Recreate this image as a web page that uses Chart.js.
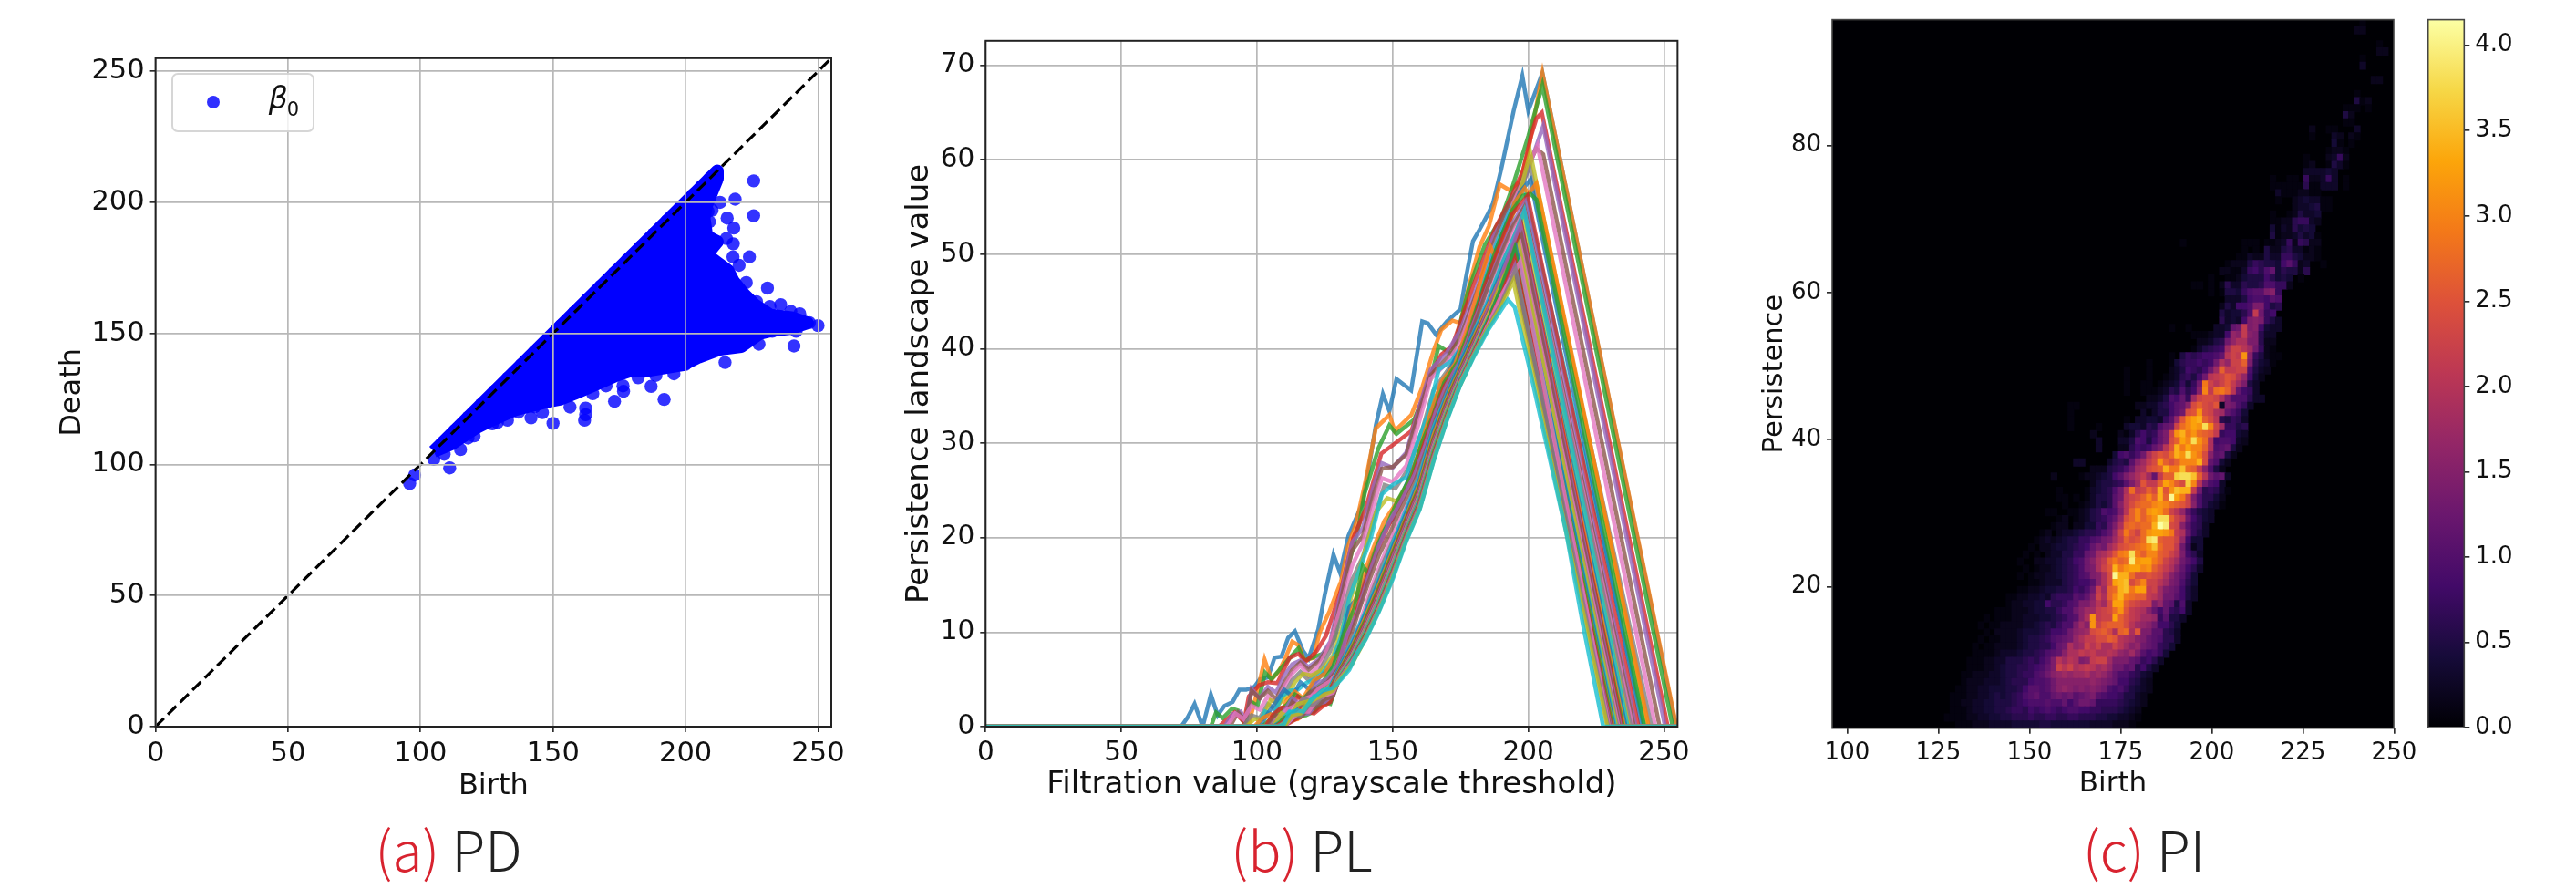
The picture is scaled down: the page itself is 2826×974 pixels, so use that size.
<!DOCTYPE html>
<html><head><meta charset="utf-8">
<script src="https://cdn.jsdelivr.net/npm/chart.js@4"></script>
<style>
html,body{margin:0;padding:0;background:#fff;width:2826px;height:974px;overflow:hidden}
canvas{position:absolute;top:0;filter:blur(.5px)}
.cap{position:absolute;top:892px;font-family:"Noto Sans CJK SC","Lato",sans-serif;font-weight:300;font-size:60px;line-height:76px;color:#222;white-space:nowrap;transform:translateX(-50%)}
.cap span{color:#d8232f}
#lg{position:absolute;left:187.7px;top:80.3px;width:153px;height:61px;border:2px solid rgba(204,204,204,.8);border-radius:7px;background:rgba(255,255,255,.8);font-family:"DejaVu Sans";font-size:33px;color:#111;z-index:3;filter:blur(.4px)}
#lg b{position:absolute;left:37.6px;top:23px;width:14px;height:14px;border-radius:50%;background:rgb(48,48,255)}
#lg i{position:absolute;left:105px;top:6px}
#lg sub{position:absolute;left:125px;top:25px;font-size:21px;line-height:26px}
</style></head><body>
<canvas id="pd" width="960" height="974" style="left:0"></canvas>
<canvas id="pl" width="900" height="974" style="left:960px"></canvas>
<canvas id="pi" width="780" height="974" style="left:1880px"></canvas>
<canvas id="cb" width="186" height="974" style="left:2640px"></canvas>
<div id="lg"><b></b><i>β</i><sub>0</sub></div>
<div class="cap" style="left:492px"><span>(a)</span> PD</div>
<div class="cap" style="left:1428px"><span>(b)</span> PL</div>
<div class="cap" style="left:2352px"><span>(c)</span> PI</div>
<script>
/* ---------- panel (a): persistence diagram ---------- */
const pdTicks=[0,50,100,150,200,250];
const diagonalEnds=[0,255];
const denseBirth=[105,212,212,210,208,207,208,212,208,212,216,218,222,226,232,240,246,240,232,228,221,213,205,199,187,180,174,165,158,153,148,136,127,121,112,105];
const denseDeath=[105,212,209,204,199,194,187,185,180,177,174,170,165,161,157,156,154,152,151,150,145,144,141,138,136,136,134,130,127,125,124,121,117,114,108,105];
const birthValues=[225.7,218.7,225.7,215.7,218.2,218,217.9,224.1,220.2,222.9,230.9,226.8,231.8,235.9,239.7,243.1,246.7,250,241.7,232.7,240.9,227.7,214.9,199.8,195.6,188.8,182.1,187,191.9,176.4,176.6,173.2,162.3,162.3,161.9,156.4,150,141.7,146,132.8,127.1,120.2,117.9,115.1,111,108.9,105,97.8,95.9,208.5,209,209.6,215.4,213,211.3,209,206,203,198,193,188,183,178,173,168,163,158,153,148,143,138,133,128,123,118,113,108,204,210,222,229,235,238,205,209,217,222,170,165,137,143,129,124];
const deathValues=[208.2,201.2,194.9,194,190.2,184.2,179.2,179.2,176,169.4,167.3,162.1,160.3,161,158.4,157.5,154.1,153,150.8,150.8,145.2,145.9,138.9,138.1,134.6,134,133.1,129.8,124.8,130,127.9,124.1,121.5,119,116.9,121.9,115.7,117.8,119.8,116.9,115.5,110.9,110.1,105.7,98.7,103.9,102,96,92.7,196.6,192.6,186.2,186.2,200,210,209,206,203,198,193,188,183,178,173,168,163,158,153,148,143,138,133,128,123,118,113,108,200,197,160,155,153,156,142,143,146,147,130,127,120,122,116,116];

/* ---------- panel (b): persistence landscape layers, flat x,y knots ---------- */
const plXTicks=[0,50,100,150,200,250];
const plYTicks=[0,10,20,30,40,50,60,70];
const layer01=[0,0,72,0,74.5,1,77,2.4,80,0,83,3.4,85.5,1.2,88,2.2,91,2.6,93.5,3.9,96,3.9,99,4.2,101,5,104,5.2,106.5,7.3,109,7.4,111.5,9.4,114,10.1,117,8,119,7.2,122.6,10.3,125,14,128.2,18.2,130.6,16.3,133.7,20.2,138.7,23.5,141,27,143.8,31.9,146.4,35.2,148.8,33.4,151.4,36.8,156.8,35.6,160.9,42.9,163,42.7,166,41.5,170,42.9,175,44.2,177,47.5,179.6,51.4,182,52.6,185,54.2,187,55.4,190,59,194.6,65.2,197.8,68.9,200,65.2,205.2,69.2,254.4,0,255,0];
const layer02=[0,0,96,0,97,.3,100.2,3.8,102.8,7.1,105.3,5,108,5.8,110.5,7.3,113,9,115.3,8.6,117.5,7,120.9,7.3,123,9.9,126.7,12.2,131,15.4,133.5,19,136.7,21.7,140,26,143.8,31.6,148.8,33,150.8,31.3,156.9,33,161,36,165,39.7,167.9,42,172,43,175,42.7,178,46.5,182,50.8,185.5,53,189.5,57.4,193,56.8,197,57.7,200,61,205.2,69.2,254.6,0,255,0];
const layer03=[0,0,83,0,84.9,1.5,87.4,.9,90.8,1.9,93,1.7,95.2,.4,97.4,2.7,100.2,2.2,103,5.7,105.3,5,109.7,6.5,115.3,8.3,117.5,7,124.2,7.7,128.7,9.3,133,16.4,137.6,21.3,139.7,24.7,144.8,29.5,148.8,31.9,151.4,31,157.9,32.5,163.9,36.7,167,40.3,172,39.4,178,46.3,184,51,190,53.8,194,57,200,62.5,205.2,67.9,253.2,0,255,0];
const layer04=[0,0,86,0,91.8,1.5,95.2,.5,97,3.2,100.8,4.4,104,4.7,107.5,4.6,112,7.3,115.3,7.7,118,6.9,122,8,125.4,9.6,131,14.5,135.5,20,140,23,145.8,28.9,150,29.8,156.9,31.3,163.9,37.3,168,39.4,172,40.3,180,46.9,188,52.9,193,55.6,198,58.8,201,62.5,203,64.4,205,65,251.4,0,255,0];
const layer05=[0,0,88,0,91,1.3,94,1.6,96,.5,98,4,101,3,104,4.2,107,3.6,110,5.4,113,6.6,116,7,119,6.3,123,7.2,127,9,131,14.2,135,19.5,139,21,143,25.5,146,27.9,150,27.4,155,29,160,34,164,37.8,170,39.6,175,42,181,46.5,187,51.8,192,54.3,196,56,200,59,203,61.5,205.5,63.6,250.4,0,255,0];
const layer06=[0,0,90,0,93,1.5,96,.6,98,3.8,101,3,104,3.8,107,2.9,110,4.6,113,6,116,6.8,119,6,123,7,127,8.6,131,13.5,135,18.6,139,20.2,143,24.6,146,27.3,150,27.5,155,28.8,160,33.5,164,37.2,170,39,175,41.2,181,46,187,51,192,54.8,197,57.3,200,59.5,203,61.2,205.5,60.6,248.4,0,255,0];
const layer07=[0,0,89,0,92,1.4,95,.8,98,2.2,101,1.8,104,3.2,107,2.4,110,4.2,113,5.6,116,6.5,119,5.4,123,6.5,127,8.8,131,12.8,135,17,139,19.4,143,23.5,146,26.3,150,25.9,155,27.6,160,32.5,164,36.8,170,38.5,175,40.6,181,45.6,187,50.4,192,53.8,197,57,201,60,203.4,61.5,246.8,0,255,0];
const layer08=[0,0,95,0,98,1.2,101,.9,104,2.4,107,1.8,110,3.4,113,4.9,116,5.8,119,4.9,123,5.9,127,8,131,11.5,135,15.5,139,18,143,22,147,25.6,151,25.2,156,27.4,161,31.5,165,35.6,170,37.6,176,40.4,182,45.2,188,50,193,53.4,197,56.5,200.5,59.5,245.4,0,255,0];
const layer09=[0,0,96,0,99,.8,102,.8,105,2.8,108,2.4,111,3.2,114,4.7,117,5.6,120,5.4,124,6,128,7.5,132,11,136,15,140,18.8,144,22.8,148,24.2,152,23.8,157,26.6,162,31,166,35,171,37,176,40,182,44.6,188,49.5,193,53,197,56.6,200.7,60.8,243.8,0,255,0];
const layer10=[0,0,100,0,103,1.6,106,1.2,109,3.2,112,3.8,115,3.9,118,4.6,121,5,124,5.6,128,7.2,131,9.5,134,13.6,138,16.8,142,20,146,24.6,150,25.6,155,26.4,159,30,163,33,167,37.8,172,38.8,177,41,183,46.5,188,51,193,54.5,198.5,57,242.6,0,255,0];
const layer11=[0,0,101,0,104,1.4,107,2.6,110,3.9,113,3.2,116,4.7,119,4,123,5.2,127,6.2,131,8.8,134,12.6,138,14,142,17.6,146,20.5,150,22,155,25.6,159,28.4,163,31.8,167,35.6,172,38.3,177,41.2,183,45.8,188,50.4,193,54,197,56.6,200.8,57.9,241.8,0,255,0];
const layer12=[0,0,99,0,102,.9,105,1.3,108,1,111,2.8,114,3.7,117,3,121,4.9,125,5.6,128,7.2,131,8,135,12.4,139,15.8,143,19,147,21.8,151,23.5,156,25.8,160,29.4,164,33.2,168,36.5,173,38.4,178,42.5,184,49,186,50.8,188,49.6,192,52.8,195,55.5,198.7,57,200,56.4,203,57.5,244.4,0,255,0];
const layer13=[0,0,102,0,105,.8,108,1.7,111,2.3,114,3.4,117,2.9,120,3.8,124,4.6,128,6.3,132,9.8,136,12.6,139,17,141,16.2,144,18.9,148,21.4,152,24,157,26.6,161,30.2,165,33,169,36.4,174,38.6,179,42.5,184,47,189,51.2,194,54.6,198,56.2,200.8,56.4,203,55.8,242.8,0,255,0];
const layer14=[0,0,103,0,106,1.3,109,2,112,2,115,3.2,118,2.4,121,3.6,125,4.4,129,6,132,8.5,136,11.5,140,15.4,144,18.4,148,21,152,23.2,157,26,161,29.4,165,32.8,169,36,174,38.2,179,42,184,46.6,189,50.6,194,54.2,199.7,56.2,240.6,0,255,0];
const layer15=[0,0,104,0,107,.7,110,1.6,113,3,116,2.3,119,3.1,122,4.6,126,5,130,6.6,133,9.6,137,12,141,15.8,145,19.2,149,21.8,153,23.8,158,26.6,162,29.8,166,33.4,170,36.2,175,38.8,180,42.8,185,46.6,190,50.4,194,53.2,198.9,55.5,239.6,0,255,0];
const layer16=[0,0,104,0,107,1.2,110,.9,113,2.6,116,1.9,119,3.5,122,4,126,4.7,130,6.1,133,8,137,11.8,141,15.2,145,18.2,149,20.5,153,23,158,25.8,162,29,166,32.6,170,35.6,175,38.4,180,42.4,185,46.4,190,50,194,52.8,198.5,55,239,0,255,0];
const layer17=[0,0,105,0,108,1,111,1.8,114,2.2,117,2.9,120,3.2,123,4.1,127,4.8,131,6.2,134,8.2,138,11,142,14.6,146,17.6,150,20.2,154,22.6,159,25.6,163,28.6,167,32.4,171,35.2,176,37.8,181,42,186,46,191,49.8,195,52.6,198.5,54.6,238.4,0,255,0];
const layer18=[0,0,105,0,108,.8,111,1.2,114,1.8,117,3,120,2.7,123,3.6,127,4.4,131,5.7,134,7.6,138,10.4,142,14,146,17,150,19.6,154,22,159,25,163,28.2,167,31.8,171,34.6,176,37.4,181,41.6,186,45.6,191,49.4,195,52,198.5,54.5,237.8,0,255,0];
const layer19=[0,0,106,0,109,1.4,112,1,115,2.4,118,2.6,121,2.9,124,3.6,128,4.6,132,6,135,8.4,139,10.6,143,14,147,17,151,19.6,155,22,160,25.2,164,28.2,168,31.6,172,34.4,177,37.4,182,41.4,187,45.4,191,48.8,195,51.6,198,53.8,237,0,255,0];
const layer20=[0,0,106,0,109,.6,112,1.6,115,1.3,118,2.1,121,3.2,124,3.2,127,4.3,130,6,135,9,140,12.2,145,15.6,150,19.4,155,23,160,26.6,165,31.6,170,35.2,175,38.6,180,41.8,185,45,190,48.8,195,52,198.5,54.6,236.6,0,255,0];
const layer21=[0,0,106,0,109,.5,112,1.2,115,1.8,118,2,121,2.6,124,3.4,127,4.1,130,5.9,135,8.7,140,11.9,145,15.4,150,19,155,22.6,160,26.2,165,31.2,170,35,175,38.4,180,41.6,185,44.6,190,48,197.5,53,235.9,0,255,0];
const layer22=[0,0,107,0,110,.8,113,.9,116,1.9,119,1.7,122,2.9,125,3.4,127,4,130,5.7,135,8.4,140,11.6,145,15,150,18.6,155,22.2,160,25.8,165,30.8,170,34.7,175,38,180,41.2,185,44.4,190,47.6,197.5,52.6,235.3,0,255,0];
const layer23=[0,0,107,0,110,.9,113,1.3,116,1.4,119,2.4,122,2.4,125,3,127,3.9,130,5.6,135,8.2,140,11.3,145,14.7,150,18.3,155,22,160,25.5,165,30.4,170,34.4,175,37.8,180,41,185,44,190,47.2,197,52.2,234.9,0,255,0];
const layer24=[0,0,107,0,110,.6,113,1,116,1.8,119,1.6,122,2.6,125,3.1,127,3.9,130,5.5,135,8,140,11,145,14.4,150,18,155,21.8,160,25.2,165,30.2,170,34.2,175,37.6,180,40.8,185,44,190,47.4,197.5,53,234.5,0,255,0];
const layer25=[0,0,107,0,110,.4,113,1.2,116,1.2,119,2,122,2.2,125,3,127,3.6,130,5.4,135,7.8,140,10.8,145,14.1,150,17.8,155,21.5,160,25,165,30,170,34,175,37.5,180,40.6,185,44,190,47.6,197,53.2,234,0,255,0];
const layer26=[0,0,108,0,111,.8,114,1,117,1.5,120,2.2,123,2.4,126,3,130,5.3,135,7.7,140,10.6,145,13.9,150,17.5,155,21.2,160,24.8,165,29.8,170,33.8,175,37.3,180,40.4,185,43.6,190,46.8,197.5,51.9,233.6,0,255,0];
const layer27=[0,0,108,0,111,.6,114,.8,117,1.8,120,1.9,123,2.7,126,2.8,130,5.2,135,7.5,140,10.4,145,13.7,150,17.3,155,21,160,24.6,165,29.6,170,33.6,175,37.1,180,40.2,185,43.4,190,46.4,197,51,233.2,0,255,0];
const layer28=[0,0,108,0,111,.7,114,1.2,117,1.4,120,1.8,123,2.3,126,3,130,5.2,135,7.4,140,10.3,145,13.5,150,17.1,155,20.9,160,24.4,165,29.4,170,33.5,175,37,180,40.1,185,43.2,190,46,197,50,232.8,0,255,0];
const layer29=[0,0,108,0,111,.5,114,.9,117,1.3,120,2,123,2.2,126,2.6,130,5.1,135,7.3,140,10.1,145,13.3,150,16.9,155,20.7,160,24.2,165,29.2,170,33.4,175,36.9,180,40,185,43.3,190,47,196.5,51,232.4,0,255,0];
const layer30=[0,0,109,0,112,.8,115,1,118,1.6,121,1.8,124,2.6,127,2.8,130,5.1,135,7.2,140,10,145,13.2,150,16.8,155,20.6,160,24.1,165,29.1,170,33.2,175,36.8,180,39.9,185,43,190,45.8,196,49.6,232,0,255,0];
const layer31=[0,0,109,0,112,.6,115,.9,118,1.8,121,1.6,124,2.4,127,2.6,130,5,135,7.1,140,9.9,145,13,150,16.6,155,20.5,160,24,165,29,170,33.1,175,36.7,180,39.8,185,42.9,190,46.4,195.5,50.6,231.6,0,255,0];
const layer32=[0,0,109,0,112,.7,115,.8,118,1.4,121,1.9,124,2.2,127,2.9,130,5,135,7,140,9.8,145,12.9,150,16.5,155,20.4,160,23.8,165,28.9,170,33,175,36.6,180,39.7,185,42.7,190,45.6,195.5,49.2,231.2,0,255,0];
const layer33=[0,0,109,0,112,.5,115,1.1,118,1.2,121,1.6,124,2.6,127,2.4,130,4.9,135,7,140,9.7,145,12.8,150,16.4,155,20.3,160,23.7,165,28.8,170,32.9,175,36.6,180,39.6,185,42.8,190,46.4,195,50.6,231,0,255,0];
const layer34=[0,0,109,0,112,.4,115,.9,118,1.6,121,1.4,124,2.1,127,2.6,130,4.9,135,6.9,140,9.6,145,12.7,150,16.3,155,20.2,160,23.6,165,28.6,170,32.8,175,36.5,180,39.6,185,42.6,190,45.6,195,49.5,230.6,0,255,0];
const layer35=[0,0,110,0,113,.9,116,1.3,119,1.4,122,2.4,125,2.6,128,3.4,130,4.9,135,6.9,140,9.5,145,12.6,150,16.2,155,20.1,160,23.5,165,28.5,170,32.7,175,36.5,180,39.5,185,42.4,190,45.2,195,48.7,230.3,0,255,0];
const layer36=[0,0,110,0,113,1.1,116,1,119,1.9,122,2.1,125,2.9,128,3.2,130,4.8,135,6.8,140,9.5,145,12.5,150,16.1,155,20,160,23.4,165,28.4,170,32.7,175,36.4,180,39.5,185,42.3,190,45,195,48,230,0,255,0];
const layer37=[0,0,110,0,113,.9,116,1.6,119,1.6,122,2.8,125,3.3,128,3.6,130,4.8,135,6.8,140,9.4,145,12.5,150,16,155,19.9,160,23.3,165,28.3,170,32.6,175,36.4,180,39.4,185,42.4,190,45.6,197,49.2,229.7,0,255,0];
const layer38=[0,0,110,0,113,1.3,116,1.2,119,2.2,122,2.5,125,3.6,128,3.9,130,4.8,135,6.7,140,9.4,145,12.4,150,15.9,155,19.8,160,23.2,165,28.2,170,32.6,175,36.3,180,39.4,185,42.2,190,44.8,195.3,48.4,229.4,0,255,0];
const layer39=[0,0,110,0,113,1.2,116,1.4,119,2.5,122,3,125,3.4,128,3.8,130,4.8,135,6.6,140,9.3,145,12.3,150,15.8,155,19.7,160,23.1,165,28.1,170,32.5,175,36.3,180,39.3,185,42.1,190,44.5,194.5,47.2,229.1,0,255,0];
const layer40=[0,0,108,0,110,.3,112,1.5,115,1.7,117,1.6,120,2.8,124,3.8,128,4.1,131,5,134,6,137,7.8,140,9.2,145,12.2,150,15.6,155,19.6,160,23,165,28,170,32.4,175,36.2,180,39.2,185,41.9,190,44.1,192.5,45.2,195,44.4,200,38.5,207,29.5,214,20.5,220,11,227.6,0,255,0];
const layerList=[layer01,layer02,layer03,layer04,layer05,layer06,layer07,layer08,layer09,layer10,layer11,layer12,layer13,layer14,layer15,layer16,layer17,layer18,layer19,layer20,layer21,layer22,layer23,layer24,layer25,layer26,layer27,layer28,layer29,layer30,layer31,layer32,layer33,layer34,layer35,layer36,layer37,layer38,layer39,layer40];
const tab10=['31,119,180','255,127,14','44,160,44','214,39,40','148,103,189','140,86,75','227,119,194','127,127,127','188,189,34','23,190,207'];

/* ---------- panel (c): persistence image, 100 x 100 cells ---------- */
const piXTicks=[100,125,150,175,200,225,250];
const piYTicks=[20,40,60,80];
const cbTicks=[0,.5,1,1.5,2,2.5,3,3.5,4];
/* first non-empty column of each row (top row first) */
const heatStart=[94,93,0,97,97,94,94,0,96,0,93,93,91,91,91,85,85,89,88,84,84,84,78,78,79,79,82,78,78,78,78,62,73,72,70,69,67,64,67,70,69,69,69,60,64,65,64,60,56,52,52,52,52,56,42,42,42,42,46,47,47,50,43,46,39,46,40,40,41,38,40,39,37,36,35,34,33,34,33,35,33,31,31,29,27,26,27,26,25,25,24,24,23,23,22,21,21,21,20,22];
/* cell levels of each row in base 36 */
const heatCells=["1","22","","1","22","1","3","","22","","1","512","11101","52","11","200110003","100032021","4101","1221","10002372","12001531","333343","10011072237301","11111161133301","31112211","1002343311","2334511","100125334","112267732","41326454","512235341","1000000000011101123727622","10105225633121","113225337754221","12225765548a723001","221137869b465526","10011245558645401","110102633655699772","10155479aade7","33358998a9","253889dd856","534469jc78","63438ded753","10010000334bcjde8433","1112338fejed633","22356cfhhdd622","135678gkkigc721","105767889bikjre75211","100014677878chfkknd6431","100010002358768cgnjjkk9532","10001001236758cijkmlif842","1001101234747cpkikmjgd53","1001112365968eqjopnib873","223598b7gkllkhd999633","1100000000002233568abelnlkm3dc973","1000000000000313558aclmrlkhgb974","100000000010334437afmqstnli65763","10000100003443659bckoqsrwqkg7756","200002136867bdkrtpronmj78843","30003359858bdlnsqwroh899832","3000226878bdimtpsqqnh9ab52","48979chkmlotrwrpleab52","3300003565aegjlrnlnqqqtlb942","2225679cghlmntppuonje952","200001223458adfhjgbjnnvwwunicab3","245567adgmjjnsqnlvqic983","10000134569chojknltmruttjc67631","1101013556aciklnqntnyspkd96642","100123546aeilnooqrqonmke96431","1100112356989dinqnrsrokifa7543","1201235679bflnqnprwwnkic8643","1220224476adhnonootzxlkea763","120233456679bfkpmkorssrpjhb753","12323455779acdgjnlmowxnmmkf844","10223445678bdcgilmnopruommjc724","10102335577bcghjmpqwpnqqnmkid863","100223345689cehjnpnoxrsspnkigca85","10122345679cdhkmtprssqrnljheb863","101223345679adehlyttollmlkheca74","11233356788aehlstulnqkkigdc964","1122344556879cjgnotupssjkgdcb853","112233436777a9bekhnqtponnjigcca853","122334486679addfiglssnlkjjdfba593","11122234455799ceggjklormjiheb8b7683","1011122333445679aehrjkksnljiggf7a553","10112222334565799dgerkmnnnligfec8864","102222344456889cefglmnlhnohmddaa653","10112223455679abcfhjjllnmihgedba9663","101122223455668bchfgkikhhkigefcba764","11112333455679abehhjijhhihfegda8974","11122335556768adigihdejkkgdddba7863","11122345566789bdkikhijighfccab6853","11222334556779acefgfgghfgfdb997643","122233345666899aceeeeeefedcb886532","1122334445568aa9acefedededc98975432","11122334545679ab99bcbcabcda98875532","11223344555678999a99b8accb777765432","1112334455677687898789988776665432","11112233445566676677667766655443321","11122233334444455444444433332221"];
const infernoStops=[[0,0,4],[22,11,57],[66,10,104],[106,23,110],[147,38,103],[188,55,84],[221,81,58],[243,120,25],[252,165,10],[246,215,70],[252,255,164]];

/* ---------- shared helpers ---------- */
Chart.defaults.font.family='"DejaVu Sans"';
Chart.defaults.color='#111';
Chart.defaults.animation=false;
Chart.defaults.events=[];
Chart.defaults.plugins.legend.display=false;
Chart.defaults.plugins.tooltip.enabled=false;
const framePlugin={id:'frame',afterDraw(c,a,o){const g=c.ctx,r=c.chartArea;g.save();g.strokeStyle=o.color||'#222';g.lineWidth=o.width||2;g.strokeRect(r.left,r.top,r.right-r.left,r.bottom-r.top);g.restore();}};
const blackPlugin={id:'black',beforeDatasetsDraw(c){const g=c.ctx,r=c.chartArea;g.save();g.fillStyle='#000004';g.fillRect(r.left,r.top,r.right-r.left,r.bottom-r.top);g.restore();}};
function axis(o){
  const s={type:'linear',min:o.min,max:o.max,position:o.pos,border:{display:false},
    grid:{display:true,offset:false,drawOnChartArea:!!o.grid,color:'#b8b8b8',lineWidth:1.7,z:o.gridZ||0,drawTicks:true,tickLength:o.tickLen||6,tickWidth:1.6,tickColor:'#222'},
    ticks:{font:{size:o.size},padding:o.pad,maxRotation:0,autoSkip:false,color:'#111',callback:o.fmt||(v=>String(v))},
    afterBuildTicks(sc){sc.ticks=o.ticks.map(v=>({value:v}));},
    afterFit(sc){if(o.pos==='bottom')sc.height=o.box;else sc.width=o.box;}};
  if(o.title){s.title={display:true,text:o.title,color:'#111',font:{size:o.tsize,lineHeight:1},padding:o.pos==='bottom'?{top:0,bottom:o.tpad}:{top:o.tpad,bottom:0}};}
  return s;
}

/* (a) */
new Chart(document.getElementById('pd'),{type:'scatter',plugins:[framePlugin],
 data:{datasets:[
  {type:'line',data:diagonalEnds.map(v=>({x:v,y:v})),borderColor:'#000',borderWidth:3.2,borderDash:[13,6],pointRadius:0,order:0,clip:0},
  {data:birthValues.map((b,i)=>({x:b,y:deathValues[i]})),backgroundColor:'rgba(0,0,255,.8)',borderWidth:0,pointRadius:7.2,order:1},
  {type:'line',data:denseBirth.map((b,i)=>({x:b,y:denseDeath[i]})),borderColor:'#0000ff',backgroundColor:'#0000ff',borderWidth:14,borderJoinStyle:'round',fill:'shape',pointRadius:0,order:2}
 ]},
 options:{responsive:false,layout:{padding:{top:63.8,right:48,left:0,bottom:0}},
  plugins:{frame:{color:'#222',width:2}},
  scales:{
   x:axis({min:0,max:255,pos:'bottom',ticks:pdTicks,grid:true,gridZ:1,size:30.5,pad:6,box:177,title:'Birth',tsize:32,tpad:95}),
   y:axis({min:0,max:255,pos:'left',ticks:pdTicks,grid:true,gridZ:1,size:30.5,pad:6,box:170.6,title:'Death',tsize:32,tpad:64})
 }}});

/* (b) */
new Chart(document.getElementById('pl'),{type:'line',plugins:[framePlugin],
 data:{datasets:layerList.map((k,i)=>{const pts=[];for(let j=0;j<k.length;j+=2)pts.push({x:k[j],y:k[j+1]});
  return {data:pts,borderColor:'rgba('+tab10[i%10]+',.8)',borderWidth:4.5,pointRadius:0,tension:0,order:layerList.length-i,clip:0};})},
 options:{responsive:false,layout:{padding:{top:44.8,right:19,left:0,bottom:0}},
  plugins:{frame:{color:'#222',width:2}},
  scales:{
   x:axis({min:0,max:255,pos:'bottom',ticks:plXTicks,grid:true,size:29.5,pad:6,box:177,title:'Filtration value (grayscale threshold)',tsize:34,tpad:96}),
   y:axis({min:0,max:72.6,pos:'left',ticks:plYTicks,grid:true,size:29.5,pad:6,box:121.3,title:'Persistence landscape value',tsize:34,tpad:32})
 }}});

/* (c) */
function inferno(v){const t=Math.min(1,v/4.15)*10,i=Math.min(9,Math.floor(t)),f=t-i,a=infernoStops[i],b=infernoStops[i+1];
 return 'rgb('+a.map((c,n)=>Math.round(c+(b[n]-c)*f)).join(',')+')';}
const piBirthMin=95.9,piBirthStep=1.54,piPersMin=.75,piPersMax=97.1,piPersStep=.9635;
const heatData=[],heatColors=[];
heatCells.forEach((row,r)=>{[...row].forEach((ch,k)=>{const lv=parseInt(ch,36);if(!lv)return;const c=heatStart[r]+k;
  heatData.push({x:piBirthMin+(c+.5)*piBirthStep,y:[piPersMax-(r+1)*piPersStep,piPersMax-r*piPersStep]});heatColors.push(inferno(4.2*Math.pow(lv/35,1.1)));});});
new Chart(document.getElementById('pi'),{type:'bar',plugins:[blackPlugin,framePlugin],
 data:{datasets:[{data:heatData,backgroundColor:heatColors,barThickness:6.16,inflateAmount:.6,borderWidth:0,grouped:false}]},
 options:{responsive:false,layout:{padding:{top:20,right:34,left:0,bottom:0}},
  plugins:{frame:{color:'#444',width:1.6}},
  scales:{
   x:Object.assign(axis({min:95.9,max:249.9,pos:'bottom',ticks:piXTicks,size:26,pad:6,box:175.3,title:'Birth',tsize:31,tpad:99}),{offset:false}),
   y:axis({min:piPersMin,max:piPersMax,pos:'left',ticks:piYTicks,size:26,pad:6,box:130,title:'Persistence',tsize:30.5,tpad:52})
 }}});

/* colour bar */
new Chart(document.getElementById('cb'),{type:'bar',plugins:[framePlugin],
 data:{labels:[''],datasets:[{data:[[0,4.15]],inflateAmount:0,borderWidth:0,categoryPercentage:1,barPercentage:1,
   backgroundColor(ctx){const a=ctx.chart.chartArea;if(!a)return '#000';const g=ctx.chart.ctx.createLinearGradient(0,a.bottom,0,a.top);
     infernoStops.forEach((s,i)=>g.addColorStop(i/10,'rgb('+s.join(',')+')'));return g;}}]},
 options:{responsive:false,layout:{padding:{top:20,right:0,left:23.7,bottom:175.8}},
  plugins:{frame:{color:'#444',width:1.6}},
  scales:{x:{display:false},
   y:axis({min:0,max:4.15,pos:'right',ticks:cbTicks,size:26,pad:6,box:122.7,fmt:v=>v.toFixed(1)})
 }}});
</script>
</body></html>
